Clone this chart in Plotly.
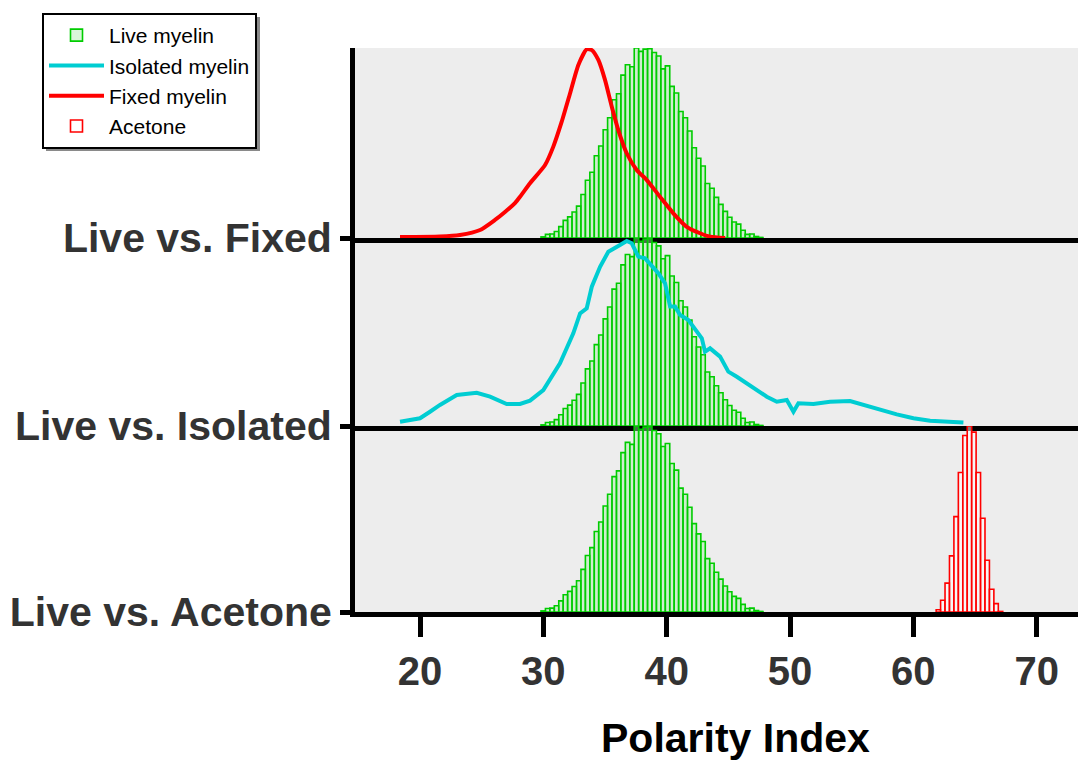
import plotly.graph_objects as go
from plotly.subplots import make_subplots

# ---------------- data ----------------
panel_labels = ["Live vs. Fixed", "Live vs. Isolated", "Live vs. Acetone"]
x_ticks = [20, 30, 40, 50, 60, 70]

# Live myelin histogram (normalised counts), bins of width 0.36 starting at 29.81
live_bin_start = 29.81
live_bin_width = 0.36
live_counts = [0.006, 0.019, 0.021, 0.034, 0.060, 0.093, 0.111, 0.137, 0.168, 0.229,
               0.304, 0.346, 0.433, 0.484, 0.570, 0.633, 0.728, 0.759, 0.857, 0.912,
               0.901, 1.000, 0.982, 0.994, 0.996, 0.976, 0.958, 0.890, 0.906, 0.798,
               0.763, 0.666, 0.633, 0.563, 0.475, 0.420, 0.379, 0.287, 0.262, 0.214,
               0.177, 0.140, 0.109, 0.084, 0.073, 0.041, 0.019, 0.021, 0.008, 0.003]

# Acetone histogram
acetone_bin_start = 61.85
acetone_bin_width = 0.36
acetone_counts = [0.012, 0.063, 0.155, 0.302, 0.513, 0.750, 0.949, 1.000, 0.967,
                  0.750, 0.504, 0.278, 0.122, 0.045, 0.003]

# Fixed myelin distribution
fixed_x = [18.38, 21.62, 23.24, 24.87, 26.08, 26.89, 27.70, 28.11, 28.92, 30.14,
           30.81, 31.49, 32.17, 32.84, 33.52, 33.93, 34.46, 35.00, 35.55, 36.08,
           36.76, 37.57, 38.39, 39.46, 40.54, 41.63, 42.71, 43.52, 44.74]
fixed_y = [0.005, 0.008, 0.016, 0.042, 0.095, 0.137, 0.184, 0.217, 0.288, 0.384,
           0.481, 0.612, 0.762, 0.911, 0.993, 0.989, 0.937, 0.832, 0.691, 0.568,
           0.446, 0.358, 0.305, 0.217, 0.130, 0.059, 0.025, 0.007, 0.0]

# Isolated myelin distribution
isolated_x = [18.38, 20.00, 20.81, 21.62, 22.98, 24.60, 25.68, 27.03, 28.11, 28.92,
              30.00, 30.81, 31.35, 32.43, 32.98, 33.52, 33.93, 34.60, 35.27, 36.22,
              36.76, 37.17, 37.70, 38.25, 38.92, 39.33, 39.87, 40.28, 40.68, 41.09,
              41.76, 42.30, 42.85, 43.11, 43.52, 44.33, 45.00, 45.69, 47.03, 48.12,
              48.93, 49.74, 50.28, 50.68, 51.90, 53.25, 54.87, 55.95, 57.31, 58.66,
              60.01, 61.36, 63.25, 64.06]
isolated_y = [0.023, 0.041, 0.076, 0.112, 0.165, 0.177, 0.156, 0.117, 0.117, 0.135,
              0.191, 0.280, 0.334, 0.493, 0.599, 0.626, 0.741, 0.847, 0.927, 0.963,
              0.984, 0.972, 0.901, 0.892, 0.839, 0.812, 0.759, 0.635, 0.635, 0.590,
              0.564, 0.511, 0.466, 0.395, 0.413, 0.369, 0.289, 0.262, 0.201, 0.156,
              0.129, 0.138, 0.076, 0.121, 0.117, 0.129, 0.133, 0.112, 0.085, 0.062,
              0.041, 0.028, 0.021, 0.018]

# ---------------- styles ----------------
GREEN = "#00cc00"
GREEN_FILL = "rgba(170,235,170,0.45)"
RED = "#ff0000"
CYAN = "#00cdd2"
BG = "#ededed"
FONT = "Liberation Sans"

live_x = [live_bin_start + live_bin_width * (i + 0.5) for i in range(len(live_counts))]
acetone_x = [acetone_bin_start + acetone_bin_width * (i + 0.5) for i in range(len(acetone_counts))]

fig = make_subplots(rows=3, cols=1, shared_xaxes=True, vertical_spacing=0)

for r in (1, 2, 3):
    fig.add_trace(go.Bar(
        x=live_x, y=live_counts, width=live_bin_width,
        marker=dict(color=GREEN_FILL, line=dict(color=GREEN, width=1.6)),
        name="Live myelin", showlegend=(r == 1), legendrank=1,
    ), row=r, col=1)

fig.add_trace(go.Bar(
    x=acetone_x, y=acetone_counts, width=acetone_bin_width,
    marker=dict(color="rgba(255,255,255,0.5)", line=dict(color=RED, width=1.6)),
    name="Acetone", legendrank=4,
), row=3, col=1)

fig.add_trace(go.Scatter(
    x=fixed_x, y=fixed_y, mode="lines", line=dict(color=RED, width=4, shape="spline", smoothing=0.6),
    name="Fixed myelin", legendrank=3,
), row=1, col=1)

fig.add_trace(go.Scatter(
    x=isolated_x, y=isolated_y, mode="lines", line=dict(color=CYAN, width=4),
    name="Isolated myelin", legendrank=2,
), row=2, col=1)

# page body has an 8px margin: lay the figure out in reference pixels minus 8
OFF = 8
W, H = 1086 - OFF, 761 - OFF
L, R, T = 355 - OFF, 0, 48 - OFF
BOT = 612 - OFF
B = H - BOT
pw = W - L - R
ph = BOT - T
bounds = [48, 238, 426, 612]
domains = [[(612 - bounds[i + 1]) / (612 - 48), (612 - bounds[i]) / (612 - 48)] for i in range(3)]


def px_x(p):
    """reference pixel x -> paper x"""
    return (p - OFF - L) / pw


def px_y(p):
    """reference pixel y -> paper y"""
    return (BOT - (p - OFF)) / ph


fig.update_layout(
    width=W, height=H,
    margin=dict(l=L, r=R, t=T, b=B, autoexpand=False),
    paper_bgcolor="white",
    plot_bgcolor=BG,
    barmode="overlay",
    font=dict(family=FONT, color="#333333"),
    legend=dict(
        x=px_x(42), y=px_y(13), xanchor="left", yanchor="top",
        bgcolor="white", bordercolor="black", borderwidth=2,
        font=dict(size=21, color="black", family=FONT),
        tracegroupgap=0, itemwidth=55,
    ),
    shapes=[dict(type="rect", xref="paper", yref="paper",
                 x0=px_x(46), x1=px_x(260), y0=px_y(151), y1=px_y(17),
                 fillcolor="#8a8a8a", line=dict(width=0), layer="above")],
    annotations=[dict(text="Polarity Index", xref="paper", yref="paper",
                      x=px_x(735), y=px_y(738), xanchor="center", yanchor="middle",
                      showarrow=False,
                      font=dict(size=41, weight="bold", color="black", family=FONT))],
)

for i in range(3):
    yname = "yaxis" if i == 0 else f"yaxis{i + 1}"
    fig.layout[yname].update(
        domain=domains[i], range=[0, 1.0],
        tickvals=[0], ticktext=[panel_labels[i]],
        ticks="outside", ticklen=10, tickwidth=5, tickcolor="black",
        showline=True, linewidth=5, linecolor="black",
        showgrid=False, zeroline=False,
        tickfont=dict(size=41, weight="bold", color="#333333", family=FONT),
    )
    xname = "xaxis" if i == 0 else f"xaxis{i + 1}"
    fig.layout[xname].update(
        range=[14.73, 74.0], showline=True, linewidth=5, linecolor="black",
        showgrid=False, zeroline=False,
    )

for i in (1, 2):
    xname = "xaxis" if i == 1 else f"xaxis{i}"
    fig.layout[xname].update(ticks="", showticklabels=False)

fig.layout["xaxis3"].update(
    tickvals=x_ticks, ticks="outside", ticklen=20, tickwidth=5, tickcolor="black",
    showticklabels=True,
    tickfont=dict(size=40, weight="bold", color="#333333", family=FONT),
)

fig.write_html("out.html")
